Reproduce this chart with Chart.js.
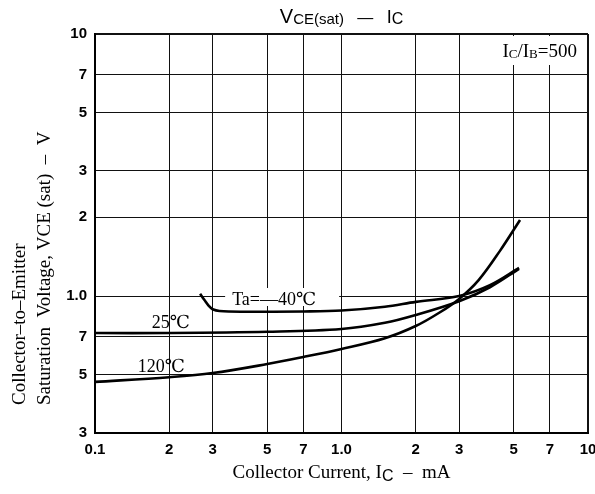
<!DOCTYPE html>
<html>
<head>
<meta charset="utf-8">
<script src="https://cdn.jsdelivr.net/npm/chart.js@4.4.1/dist/chart.umd.min.js"></script>
<style>
  html, body { margin: 0; padding: 0; background: #fff; }
  #wrap { width: 595px; height: 494px; }
</style>
</head>
<body>
<div id="wrap"><canvas id="vceChart" width="595" height="494"></canvas></div>
<script>
// tick positions and the labels printed under / beside them
const xTickValues = [0.1, 0.2, 0.3, 0.5, 0.7, 1, 2, 3, 5, 7, 10];
const xTickLabels = ['0.1', '2', '3', '5', '7', '1.0', '2', '3', '5', '7', '10'];
const yTickValues = [0.3, 0.5, 0.7, 1, 2, 3, 5, 7, 10];
const yTickLabels = ['3', '5', '7', '1.0', '2', '3', '5', '7', '10'];

// Ta = -40 C
const icM40 = [0.267, 0.278, 0.29, 0.3, 0.32, 0.4, 0.7, 1.0, 1.5, 2.0, 3.0, 4.0, 5.25];
const vceM40 = [1.02, 0.965, 0.915, 0.89, 0.876, 0.871, 0.873, 0.88, 0.91, 0.95, 1.0, 1.1, 1.28];
// Ta = 25 C
const ic25 = [0.1, 0.2, 0.5, 1.0, 1.5, 2.0, 3.0, 4.0, 5.25];
const vce25 = [0.722, 0.722, 0.73, 0.748, 0.79, 0.846, 0.955, 1.08, 1.27];
// Ta = 120 C
const ic120 = [0.1, 0.2, 0.3, 0.5, 0.7, 1.0, 1.5, 2.0, 2.5, 3.0, 3.6, 4.4, 5.3];
const vce120 = [0.47, 0.49, 0.508, 0.55, 0.585, 0.628, 0.69, 0.768, 0.865, 0.975, 1.15, 1.49, 1.95];

const serif = '"Liberation Serif", "DejaVu Serif", serif';
const sans = '"Liberation Sans", Arial, sans-serif';

function toPoints(xs, ys) {
  return xs.map((x, i) => ({ x: x, y: ys[i] }));
}

function piecesWidth(ctx, pieces) {
  let w = 0;
  pieces.forEach(p => { ctx.font = p.font; w += ctx.measureText(p.text).width; });
  return w;
}

function drawPieces(ctx, pieces, x, y) {
  let cx = x;
  pieces.forEach(p => {
    ctx.font = p.font;
    ctx.fillText(p.text, cx, y + (p.dy || 0));
    cx += ctx.measureText(p.text).width;
  });
}

// curve labels, placed in data units
const curveLabels = [
  { text: 'Ta=\u201440\u2103', x: 0.36, y: 0.924, box: true },
  { text: '25\u2103', x: 0.170, y: 0.755 },
  { text: '120\u2103', x: 0.149, y: 0.513 }
];

const textPlugin = {
  id: 'sheetText',
  beforeDatasetsDraw(chart) {
    const ctx = chart.ctx;
    const xs = chart.scales.x, ys = chart.scales.y;
    const area = chart.chartArea;
    ctx.save();
    ctx.fillStyle = '#fff';
    // blank patch behind the Ic/Ib note
    ctx.fillRect(area.right - 112, area.top + 2, 110, 29);
    curveLabels.filter(l => l.box).forEach(l => {
      ctx.font = '18px ' + serif;
      const px = xs.getPixelForValue(l.x), py = ys.getPixelForValue(l.y);
      const w = ctx.measureText(l.text).width;
      ctx.fillRect(px - 7, py - 17, w + 30, 18);
    });
    ctx.restore();
  },
  afterDatasetsDraw(chart) {
    const ctx = chart.ctx;
    const xs = chart.scales.x, ys = chart.scales.y;
    const area = chart.chartArea;
    ctx.save();
    ctx.fillStyle = '#000';
    ctx.textBaseline = 'alphabetic';
    ctx.textAlign = 'left';

    curveLabels.forEach(l => {
      ctx.font = '18px ' + serif;
      ctx.fillText(l.text, xs.getPixelForValue(l.x), ys.getPixelForValue(l.y));
    });

    // Ic/Ib note
    const note = [
      { text: 'I', font: '19px ' + serif },
      { text: 'C', font: '13px ' + serif, dy: 1 },
      { text: '/I', font: '19px ' + serif },
      { text: 'B', font: '13px ' + serif, dy: 1 },
      { text: '=500', font: '19px ' + serif }
    ];
    drawPieces(ctx, note, area.right - 11 - piecesWidth(ctx, note), area.top + 23);

    // main title
    const title = [
      { text: 'V', font: '20px ' + sans },
      { text: 'CE(sat)', font: '15px ' + sans, dy: 1 },
      { text: '   \u2014   ', font: '16px ' + sans },
      { text: 'I', font: '18px ' + sans },
      { text: 'C', font: '16px ' + sans, dy: 1 }
    ];
    const cx = (area.left + area.right) / 2;
    drawPieces(ctx, title, cx - piecesWidth(ctx, title) / 2, 23);

    // x axis title
    const xTitle = [
      { text: 'Collector Current, I', font: '19px ' + serif },
      { text: 'C', font: '16px ' + sans, dy: 3 },
      { text: '  \u2013  mA', font: '19px ' + serif }
    ];
    drawPieces(ctx, xTitle, cx - piecesWidth(ctx, xTitle) / 2, 478);

    // y axis title, two lines reading upward
    ctx.translate(0, 405);
    ctx.rotate(-Math.PI / 2);
    ctx.font = '19px ' + serif;
    ctx.fillText('Collector\u2013to\u2013Emitter', 0, 25);
    ctx.fillText('Saturation  Voltage, VCE (sat)  \u2013  V', 0, 50);
    ctx.restore();
  }
};

function curve(xs, ys) {
  return {
    data: toPoints(xs, ys),
    borderColor: '#000',
    borderWidth: 2.6,
    pointRadius: 0,
    fill: false,
    tension: 0.35
  };
}

const frameWidth = c => (c.tick && c.tick.value === 10) ? 2 : 1;

new Chart(document.getElementById('vceChart'), {
  type: 'line',
  data: {
    datasets: [curve(icM40, vceM40), curve(ic25, vce25), curve(ic120, vce120)]
  },
  options: {
    responsive: false,
    animation: false,
    layout: { padding: { top: 34, right: 7, left: 0, bottom: 0 } },
    plugins: { legend: { display: false }, tooltip: { enabled: false } },
    scales: {
      x: {
        type: 'logarithmic',
        min: 0.1,
        max: 10,
        afterBuildTicks: s => { s.ticks = xTickValues.map(v => ({ value: v })); },
        afterFit: s => { s.height = 61; s.paddingLeft = 0; s.paddingRight = 0; },
        ticks: {
          autoSkip: false,
          maxRotation: 0,
          padding: 8,
          color: '#000',
          font: { family: sans, size: 15, weight: 'bold' },
          callback: (v, i) => xTickLabels[i]
        },
        grid: { color: '#111', lineWidth: frameWidth, drawTicks: false },
        border: { color: '#000', width: 2 }
      },
      y: {
        type: 'logarithmic',
        min: 0.3,
        max: 10,
        afterBuildTicks: s => { s.ticks = yTickValues.map(v => ({ value: v })); },
        afterFit: s => { s.width = 95; s.paddingTop = 0; s.paddingBottom = 0; },
        ticks: {
          autoSkip: false,
          padding: 8,
          color: '#000',
          font: { family: sans, size: 15, weight: 'bold' },
          callback: (v, i) => yTickLabels[i]
        },
        grid: { color: '#111', lineWidth: frameWidth, drawTicks: false },
        border: { color: '#000', width: 2 }
      }
    }
  },
  plugins: [textPlugin]
});
</script>
</body>
</html>
